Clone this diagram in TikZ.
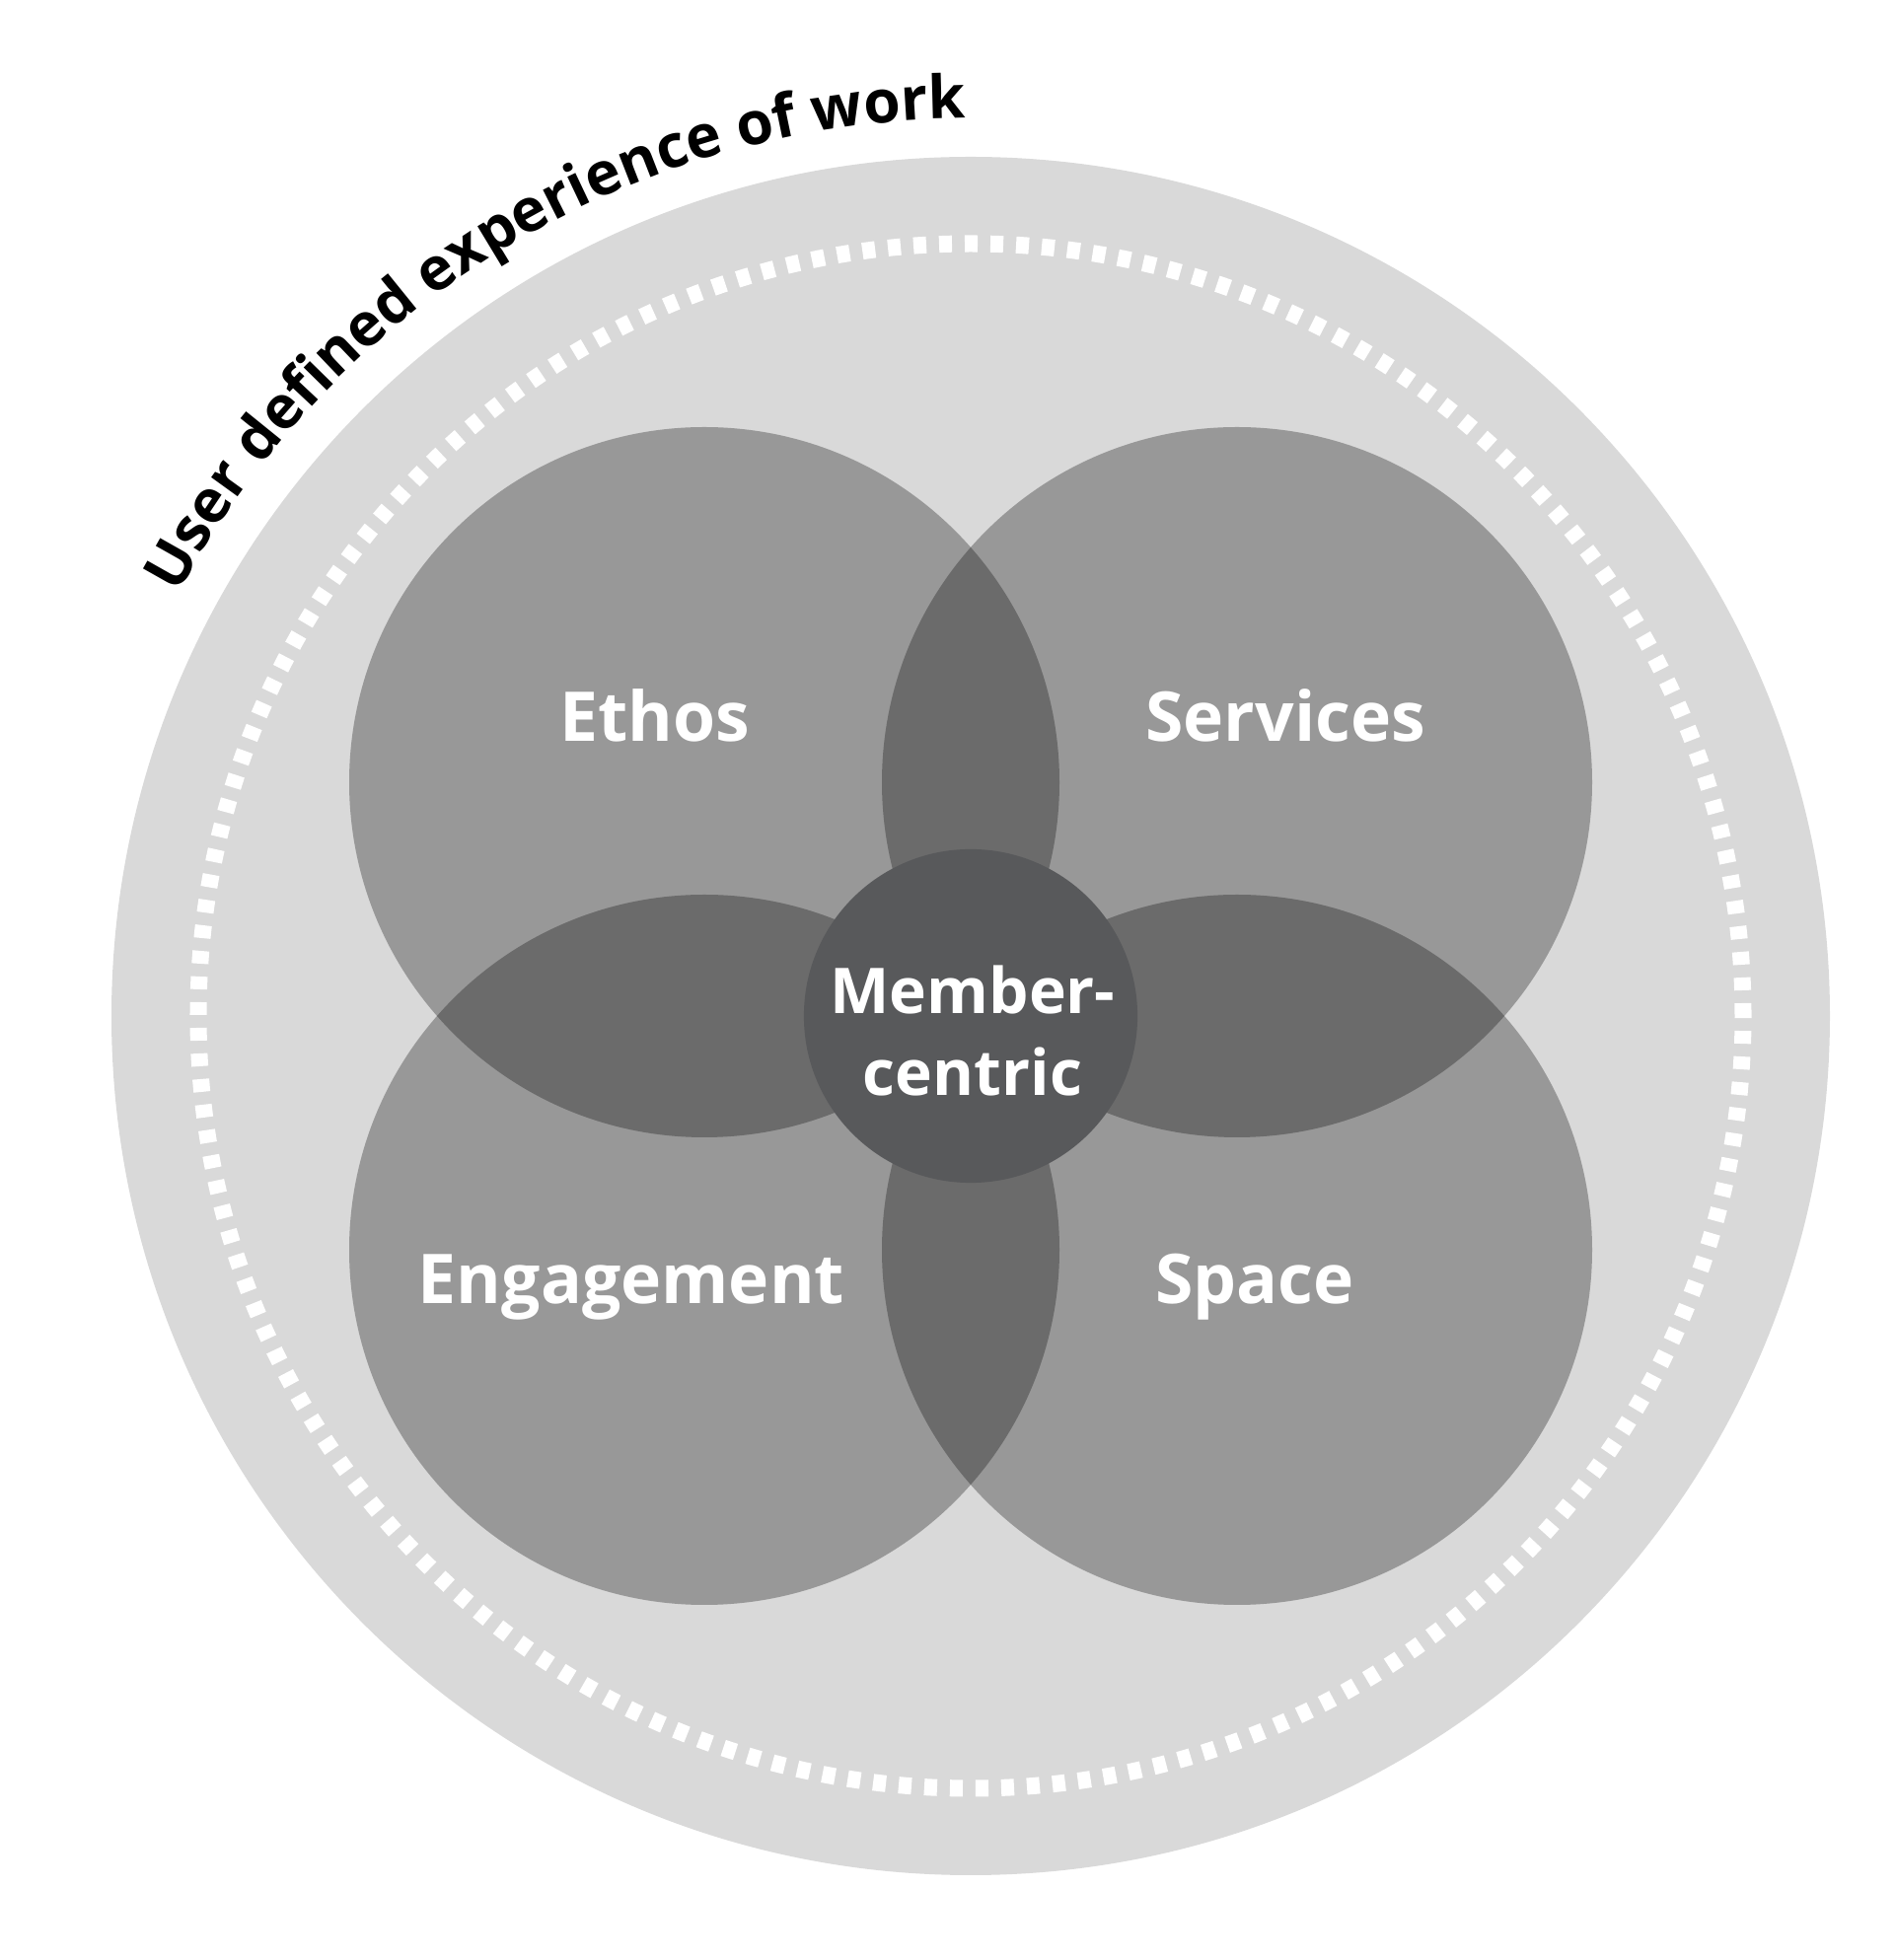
\documentclass[tikz,border=0pt]{standalone}
\usepackage{fontspec}
\setmainfont{Open Sans}
\usetikzlibrary{decorations.text}

\definecolor{ringgray}{HTML}{D9D9D9}
\definecolor{petalgray}{HTML}{989898}
\definecolor{overlapgray}{HTML}{6B6B6B}
\definecolor{hubgray}{HTML}{58595B}

\newcommand{\labelfont}{\fontsize{19.8}{23.6}\selectfont\bfseries}
\newcommand{\hubfont}{\fontsize{18.2}{23.6}\selectfont\bfseries}
\newcommand{\arcfont}{\fontsize{17.2}{21}\selectfont\bfseries}

\begin{document}
\begin{tikzpicture}[
  x=0.01cm, y=0.01cm,
  petal/.style={fill=petalgray},
  overlap/.style={fill=overlapgray},
  label/.style={text=white, font=\labelfont, anchor=base},
  hub/.style={circle, fill=hubgray, minimum size=3.38cm, inner sep=0pt},
  hubtext/.style={text=white, font=\hubfont, align=center}
]

  % Parameters
  \def\Rbig{871}
  \def\Rdash{783}
  \def\Rpetal{360}
  \def\Rtext{910}

  \useasboundingbox (0,0) rectangle (1920,1987);

  % Centres
  \coordinate (centre) at (984,957);
  \coordinate (ethos) at (714,1194);
  \coordinate (services) at (1254,1194);
  \coordinate (engagement) at (714,720);
  \coordinate (space) at (1254,720);

  % Outer disc and dashed ring
  \fill[ringgray] (centre) circle[radius=\Rbig];
  \draw[white, line width=4.84pt, dash pattern=on 3.7pt off 3.7pt]
    (centre) circle[radius=\Rdash];

  % Petals
  \foreach \p in {ethos,services,engagement,space}
    \fill[petal] (\p) circle[radius=\Rpetal];

  % Overlaps
  \foreach \a/\b in {ethos/services,ethos/engagement,services/space,engagement/space} {
    \begin{scope}
      \clip (\a) circle[radius=\Rpetal];
      \fill[overlap] (\b) circle[radius=\Rpetal];
    \end{scope}
  }

  % Hub
  \node[hub] (member) at (centre) {};
  \node[hubtext] (membertxt) at (986,942) {Member-\\centric};

  % Labels
  \node[label] (ethoslbl) at (664,1235) {Ethos};
  \node[label] (serviceslbl) at (1303,1235) {Services};
  \node[label] (engagementlbl) at (640,665) {Engagement};
  \node[label] (spacelbl) at (1272,665) {Space};

  % Title on the arc
  \path[decorate, decoration={text along path, text align=left,
      text={|\arcfont|User defined experience of work}}]
    (centre) ++(152:\Rtext) arc[start angle=152, end angle=80, radius=\Rtext];

\end{tikzpicture}
\end{document}
